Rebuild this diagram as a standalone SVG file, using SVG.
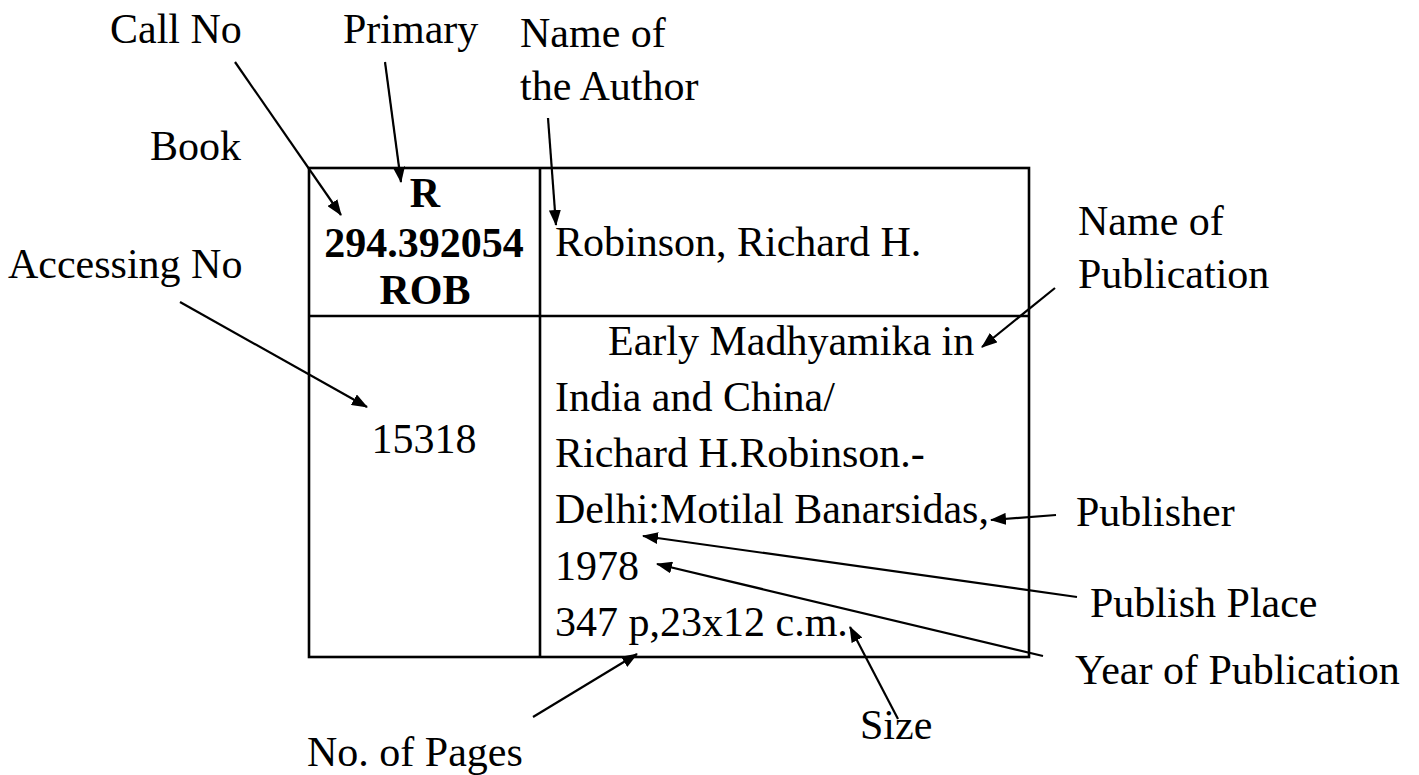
<svg xmlns="http://www.w3.org/2000/svg" width="1419" height="775" viewBox="0 0 1419 775">
<style>
text{font-family:"Liberation Serif","Times New Roman",serif;font-size:42px;fill:#000}
.b{font-weight:bold;text-anchor:middle}
.m{text-anchor:middle}
.tbl{fill:none;stroke:#000;stroke-width:2.6}
.arr{stroke:#000;stroke-width:2.2;fill:none;marker-end:url(#ah)}
</style>
<defs>
<marker id="ah" markerUnits="userSpaceOnUse" markerWidth="16" markerHeight="12" refX="15" refY="6" orient="auto">
<path d="M0,0 L16,6 L0,12 z" fill="#000"/>
</marker>
</defs>
<rect width="1419" height="775" fill="#fff"/>
<g id="table">
<rect class="tbl" x="309" y="168" width="720" height="489"/>
<line class="tbl" x1="540" y1="168" x2="540" y2="657"/>
<line class="tbl" x1="309" y1="316" x2="1029" y2="316"/>
</g>
<g id="call-number">
<text class="b" x="425" y="207">R</text>
<text class="b" x="424" y="257">294.392054</text>
<text class="b" x="425" y="304">ROB</text>
</g>
<g id="author-entry"><text x="555" y="256">Robinson, Richard H.</text></g>
<g id="accession-number"><text class="m" x="424" y="453">15318</text></g>
<g id="description">
<text x="608" y="355">Early Madhyamika in</text>
<text x="555" y="411">India and China/</text>
<text x="555" y="467">Richard H.Robinson.-</text>
<text x="555" y="523">Delhi:Motilal Banarsidas,</text>
<text x="555" y="580">1978</text>
<text x="555" y="636">347 p,23x12 c.m.</text>
</g>
<g id="label-callno"><text x="110" y="43">Call No</text></g>
<g id="label-primary"><text x="343" y="43">Primary</text></g>
<g id="label-author"><text x="520" y="47">Name of</text><text x="520" y="100">the Author</text></g>
<g id="label-book"><text x="150" y="160">Book</text></g>
<g id="label-accessing"><text x="8" y="278">Accessing No</text></g>
<g id="label-publication"><text x="1078" y="235">Name of</text><text x="1078" y="288">Publication</text></g>
<g id="label-publisher"><text x="1076" y="526">Publisher</text></g>
<g id="label-place"><text x="1090" y="617">Publish Place</text></g>
<g id="label-year"><text x="1075" y="684">Year of Publication</text></g>
<g id="label-size"><text x="860" y="739">Size</text></g>
<g id="label-pages"><text x="307" y="766">No. of Pages</text></g>
<g id="connectors">
<line class="arr" x1="235" y1="62" x2="341" y2="215"/>
<line class="arr" x1="385" y1="62" x2="401" y2="182"/>
<line class="arr" x1="548" y1="118" x2="556" y2="225"/>
<line class="arr" x1="180" y1="302" x2="367" y2="407"/>
<line class="arr" x1="1055" y1="288" x2="982" y2="347"/>
<line class="arr" x1="1056" y1="515" x2="991" y2="520"/>
<line class="arr" x1="1077" y1="597" x2="643" y2="536"/>
<line class="arr" x1="1043" y1="656" x2="657" y2="564"/>
<line class="arr" x1="533" y1="717" x2="637" y2="654"/>
<line class="arr" x1="898" y1="719" x2="850" y2="627"/>
</g>
</svg>
